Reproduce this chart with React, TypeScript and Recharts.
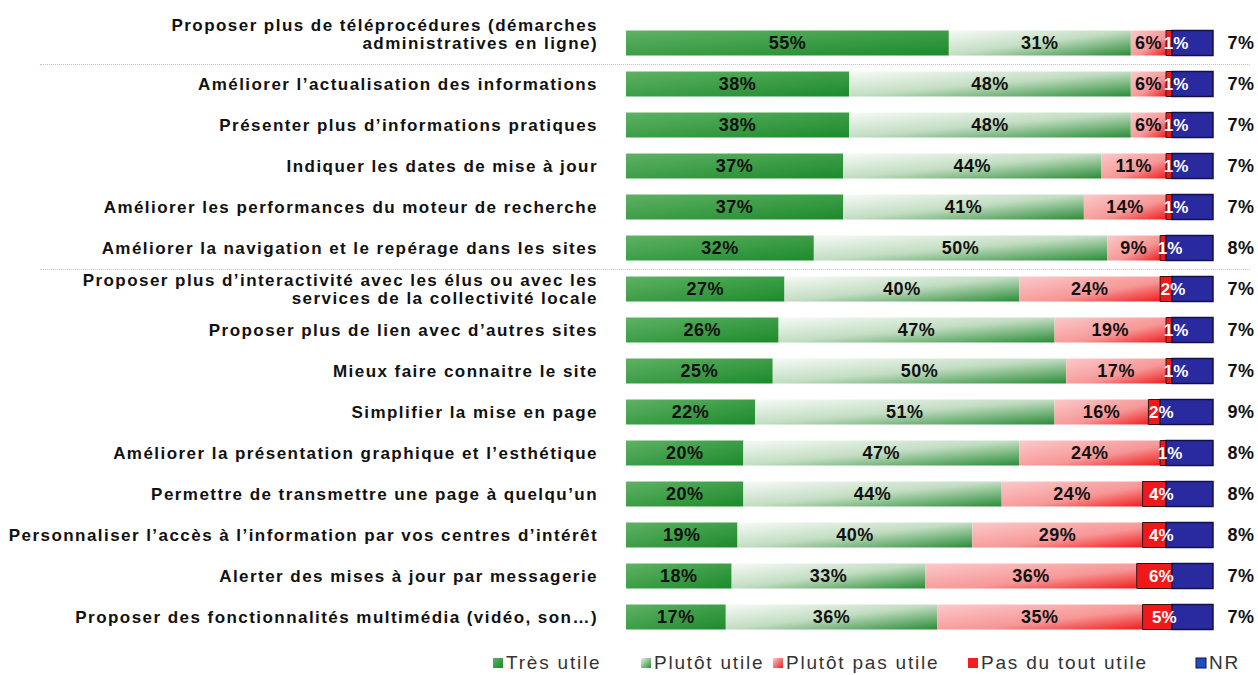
import React from 'react';
import { BarChart, Bar, XAxis, YAxis, LabelList } from 'recharts';

const categories = [
  'Proposer plus de téléprocédures (démarches|administratives en ligne)',
  'Améliorer l’actualisation des informations',
  'Présenter plus d’informations pratiques',
  'Indiquer les dates de mise à jour',
  'Améliorer les performances du moteur de recherche',
  'Améliorer la navigation et le repérage dans les sites',
  'Proposer plus d’interactivité avec les élus ou avec les|services de la collectivité locale',
  'Proposer plus de lien avec d’autres sites',
  'Mieux faire connaitre le site',
  'Simplifier la mise en page',
  'Améliorer la présentation graphique et l’esthétique',
  'Permettre de transmettre une page à quelqu’un',
  'Personnaliser l’accès à l’information par vos centres d’intérêt',
  'Alerter des mises à jour par messagerie',
  'Proposer des fonctionnalités multimédia (vidéo, son…)',
];

const tresUtile = [55, 38, 38, 37, 37, 32, 27, 26, 25, 22, 20, 20, 19, 18, 17];
const plutotUtile = [31, 48, 48, 44, 41, 50, 40, 47, 50, 51, 47, 44, 40, 33, 36];
const plutotPasUtile = [6, 6, 6, 11, 14, 9, 24, 19, 17, 16, 24, 24, 29, 36, 35];
const pasDuToutUtile = [1, 1, 1, 1, 1, 1, 2, 1, 1, 2, 1, 4, 4, 6, 5];
const nr = [7, 7, 7, 7, 7, 8, 7, 7, 7, 9, 8, 8, 8, 7, 7];

const seriesNames = ['Très utile', 'Plutôt utile', 'Plutôt pas utile', 'Pas du tout utile', 'NR'];

const data = categories.map((name, i) => ({
  name,
  tres: tresUtile[i],
  plutot: plutotUtile[i],
  plutotPas: plutotPasUtile[i],
  pasDuTout: pasDuToutUtile[i],
  nr: nr[i],
}));

const W = 1258;
const H = 675;
const TOP = 22.5;
const BOTTOM = 37.5;
const PLOT_LEFT = 626;
const PLOT_W = 587;
const BAND = (H - TOP - BOTTOM) / categories.length;

const FONT = '"Liberation Sans", Arial, sans-serif';

const CategoryTick = (props: any) => {
  const { y, payload, index } = props;
  const lines = String(payload.value).split('|');
  const lh = 18;
  // the first (two-line) label sits a bit higher than its bar in the original
  const shift = index === 0 ? -9 : 0;
  const y0 = y - ((lines.length - 1) * lh) / 2 + 6 + shift;
  return (
    <text
      x={598}
      y={y0}
      textAnchor="end"
      fontFamily={FONT}
      fontWeight="bold"
      fontSize={17}
      letterSpacing={1.45}
      fill="#111"
    >
      {lines.map((l, i) => (
        <tspan key={i} x={598} y={y0 + i * lh}>
          {l}
        </tspan>
      ))}
    </text>
  );
};

const centerLabel = (color: string) => (props: any) => {
  const { x, y, width, height, value } = props;
  return (
    <text
      x={x + width / 2}
      y={y + height / 2 + 6}
      textAnchor="middle"
      fontFamily={FONT}
      fontWeight="bold"
      fontSize={18}
      letterSpacing={0.5}
      fill={color}
    >
      {value}%
    </text>
  );
};

const outsideLabel = (props: any) => {
  const { x, y, width, height, value } = props;
  return (
    <text
      x={x + width + 28}
      y={y + height / 2 + 6}
      textAnchor="middle"
      fontFamily={FONT}
      fontWeight="bold"
      fontSize={18}
      letterSpacing={0.5}
      fill="#111"
    >
      {value}%
    </text>
  );
};

const legendItems = [
  { name: seriesNames[0], fill: 'url(#lgTres)', x: 493 },
  { name: seriesNames[1], fill: 'url(#lgPlutot)', x: 641 },
  { name: seriesNames[2], fill: 'url(#lgPlutotPas)', x: 773 },
  { name: seriesNames[3], fill: '#f02020', x: 968 },
  { name: seriesNames[4], fill: '#1f4fc0', x: 1196 },
];

export default function App() {
  return (
    <div style={{ position: 'absolute', left: 0, top: 0, width: W, height: H, background: '#fff' }}>
      <BarChart
        width={W}
        height={H}
        data={data}
        layout="vertical"
        barCategoryGap={0}
        margin={{ top: TOP, right: W - PLOT_LEFT - PLOT_W, bottom: BOTTOM, left: 0 }}
      >
        <defs>
          <linearGradient id="gTres" x1="0" y1="0" x2="1" y2="1">
            <stop offset="0%" stopColor="#5fb264" />
            <stop offset="100%" stopColor="#1c8a2b" />
          </linearGradient>
          <linearGradient id="gPlutot" x1="0" y1="0" x2="1" y2="1">
            <stop offset="0%" stopColor="#f7faf7" />
            <stop offset="50%" stopColor="#c2ddc2" />
            <stop offset="100%" stopColor="#2a8c37" />
          </linearGradient>
          <linearGradient id="gPlutotPas" x1="0" y1="0" x2="1" y2="1">
            <stop offset="0%" stopColor="#fbcaca" />
            <stop offset="60%" stopColor="#f79696" />
            <stop offset="100%" stopColor="#f01c1c" />
          </linearGradient>
        </defs>
        <XAxis type="number" domain={[0, 100]} hide />
        <YAxis
          type="category"
          dataKey="name"
          width={PLOT_LEFT}
          axisLine={false}
          tickLine={false}
          interval={0}
          tick={<CategoryTick />}
        />
        <Bar dataKey="tres" stackId="a" barSize={25} fill="url(#gTres)" isAnimationActive={false}>
          <LabelList dataKey="tres" content={centerLabel('#111')} />
        </Bar>
        <Bar dataKey="plutot" stackId="a" barSize={25} fill="url(#gPlutot)" isAnimationActive={false}>
          <LabelList dataKey="plutot" content={centerLabel('#111')} />
        </Bar>
        <Bar dataKey="plutotPas" stackId="a" barSize={25} fill="url(#gPlutotPas)" isAnimationActive={false}>
          <LabelList dataKey="plutotPas" content={centerLabel('#111')} />
        </Bar>
        <Bar
          dataKey="pasDuTout"
          stackId="a"
          barSize={25}
          fill="#f01818"
          stroke="#3a1010"
          strokeWidth={1}
          isAnimationActive={false}
        />
        <Bar
          dataKey="nr"
          stackId="a"
          barSize={25}
          fill="#2a2aa0"
          stroke="#10104a"
          strokeWidth={1.5}
          isAnimationActive={false}
        >
          <LabelList dataKey="nr" content={outsideLabel} />
        </Bar>
      </BarChart>
      {/* white labels of "Pas du tout utile", drawn above the NR bar */}
      <svg width={W} height={H} style={{ position: 'absolute', left: 0, top: 0, pointerEvents: 'none' }}>
        {pasDuToutUtile.map((v, i) => {
          const start = tresUtile[i] + plutotUtile[i] + plutotPasUtile[i];
          const cx = PLOT_LEFT + ((start + v / 2) / 100) * PLOT_W;
          const cy = TOP + BAND * (i + 0.5);
          return (
            <text
              key={i}
              x={cx + 7}
              y={cy + 6}
              textAnchor="middle"
              fontFamily={FONT}
              fontWeight="bold"
              fontSize={17}
              fill="#fff"
            >
              {v}%
            </text>
          );
        })}
      </svg>
      {[1, 6].map((k) => (
        <div
          key={k}
          style={{
            position: 'absolute',
            left: 40,
            top: TOP + BAND * k,
            width: 1210,
            borderTop: '1px dotted #a6d8a6',
          }}
        />
      ))}
      <svg width={W} height={30} style={{ position: 'absolute', left: 0, top: 650 }}>
        <defs>
          <linearGradient id="lgTres" x1="0" y1="0" x2="1" y2="1">
            <stop offset="0%" stopColor="#5fb264" />
            <stop offset="100%" stopColor="#1c8a2b" />
          </linearGradient>
          <linearGradient id="lgPlutot" x1="0" y1="0" x2="1" y2="1">
            <stop offset="0%" stopColor="#e8f2e8" />
            <stop offset="100%" stopColor="#2a8c37" />
          </linearGradient>
          <linearGradient id="lgPlutotPas" x1="0" y1="0" x2="1" y2="1">
            <stop offset="0%" stopColor="#fbcaca" />
            <stop offset="100%" stopColor="#f01c1c" />
          </linearGradient>
        </defs>
        {legendItems.map((it) => (
          <g key={it.name}>
            <rect
              x={it.x}
              y={8}
              width={10}
              height={10}
              fill={it.fill}
              stroke={it.name === 'NR' ? '#10104a' : 'none'}
            />
            <text x={it.x + 13} y={19} fontFamily={FONT} fontSize={19} letterSpacing={1.8} fill="#333">
              {it.name}
            </text>
          </g>
        ))}
      </svg>
    </div>
  );
}
